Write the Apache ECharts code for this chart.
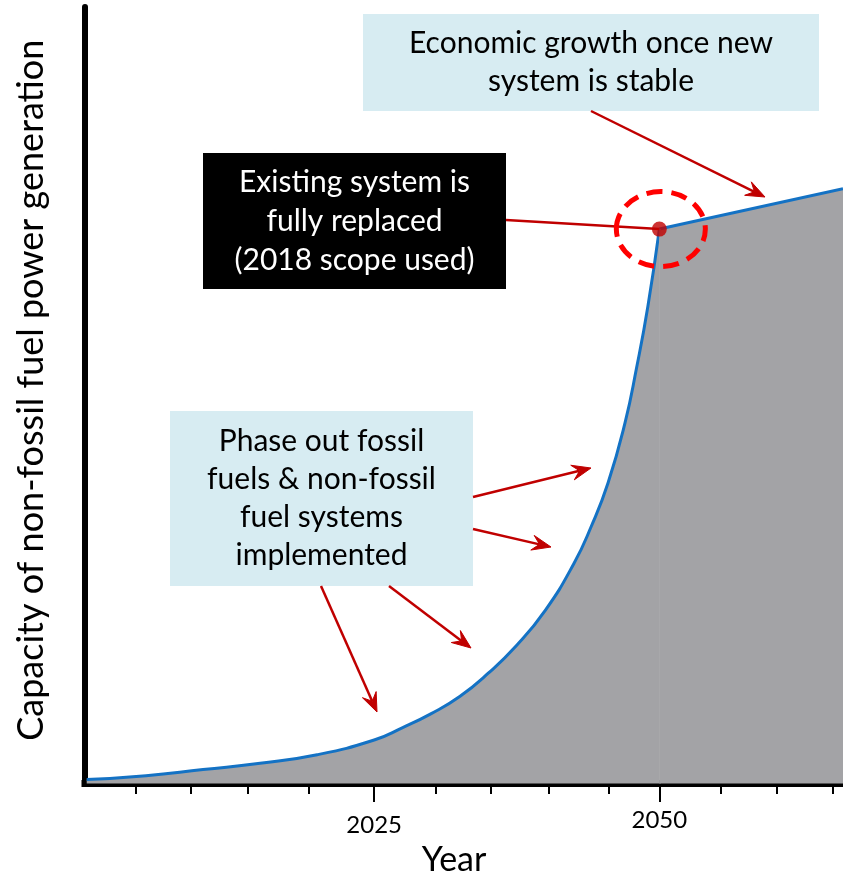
<!DOCTYPE html>
<html>
<head>
<meta charset="utf-8">
<script src="https://cdn.jsdelivr.net/npm/echarts@6/dist/echarts.min.js"></script>
<style>
  html, body { margin: 0; padding: 0; background: #ffffff; }
  #chart { width: 843px; height: 875px; }
</style>
</head>
<body>
<div id="chart"></div>
<script>
// Build-out of non-fossil generation capacity: a ramp that ends when the
// existing system is fully replaced, then slower economic growth.
const rampYears     = [1999.8, 2005, 2010, 2015, 2020, 2025, 2027.5, 2030, 2032.5, 2035, 2037.5, 2040, 2042.5, 2044, 2045.5, 2047, 2048, 2049, 2050];
const rampCapacity  = [0.5,    1.0,  1.8,  2.6,  3.7,  5.6,  7.2,    9.0,  11.2,   14.2, 17.8,   22.3, 28.3,   33.0, 38.7,   46.5, 53.5, 61.5, 71.4];
const growthYears    = [2050, 2066.1];
const growthCapacity = [71.4, 76.6];
const replacedPoint  = [2050, 71.4];

const minorTickYears = [2004.1, 2008.9, 2013.9, 2019.3, 2030.4, 2035.2, 2040.3, 2045.6, 2055.4, 2060.3, 2065.2];
const labelYears     = [2025, 2050];

const FONT = 'Lato, "Noto Sans", sans-serif';
const LINE_BLUE = '#1472c4';
const AREA_GREY = '#a3a3a6';
const DARK_RED = '#c00000';
const BOX_BLUE = '#d7ecf2';

const zip = (xs, ys) => xs.map((x, i) => [x, ys[i]]);

const chart = echarts.init(document.getElementById('chart'), null, { renderer: 'canvas' });

const xRange = { min: 1999.65, max: 2066.1 };
const lineCommon = {
  type: 'line', symbol: 'none',
  lineStyle: { color: LINE_BLUE, width: 3 },
  areaStyle: { color: AREA_GREY, opacity: 1 },
  z: 3
};

chart.setOption({
  animation: false,
  backgroundColor: '#ffffff',
  grid: { left: 85, right: 0, top: 7, bottom: 91.5, containLabel: false, outerBoundsMode: 'none' },
  xAxis: [
    {
      type: 'value', position: 'bottom', ...xRange,
      axisLine: { show: true, lineStyle: { color: '#000', width: 7, cap: 'square' } },
      axisTick: { show: true, customValues: minorTickYears, length: 10.5, lineStyle: { color: '#000', width: 2 } },
      axisLabel: { show: false },
      splitLine: { show: false },
      name: 'Year', nameLocation: 'middle', nameGap: 60,
      nameTextStyle: { fontFamily: FONT, fontSize: 34, color: '#000', padding: [0, 20, 0, 0] }
    },
    {
      type: 'value', position: 'bottom', ...xRange,
      axisLine: { show: false },
      axisTick: { show: true, customValues: labelYears, length: 18.5, lineStyle: { color: '#000', width: 2 } },
      axisLabel: {
        show: true, customValues: labelYears, margin: 25,
        fontFamily: FONT, fontSize: 24, color: '#000',
        formatter: v => (v === 2025 ? '{lo|2025}' : '{hi|' + v + '}'),
        rich: { lo: { fontFamily: FONT, fontSize: 24, padding: [5, 0, 0, 0] }, hi: { fontFamily: FONT, fontSize: 24, padding: [0, 0, 5, 0] } }
      },
      splitLine: { show: false }
    }
  ],
  yAxis: {
    type: 'value', min: 0, max: 100,
    axisLine: { show: true, lineStyle: { color: '#000', width: 6 } },
    axisTick: { show: false },
    axisLabel: { show: false },
    splitLine: { show: false },
    name: 'Capacity of non-fossil fuel power generation',
    nameLocation: 'middle', nameRotate: 90, nameGap: 36,
    nameTextStyle: { fontFamily: FONT, fontSize: 36, color: '#000', padding: [0, 0, 0, 10] }
  },
  series: [
    {
      ...lineCommon, name: 'ramp', data: zip(rampYears, rampCapacity), smooth: 0.5,
      // fill the hairline where the two shaded phases meet
      markLine: {
        silent: true, symbol: 'none', label: { show: false },
        lineStyle: { color: AREA_GREY, width: 1.5, type: 'solid' },
        data: [[{ coord: [replacedPoint[0], 0] }, { coord: replacedPoint }]]
      }
    },
    { ...lineCommon, name: 'growth', data: zip(growthYears, growthCapacity) },
    {
      name: 'replaced', type: 'scatter', data: [replacedPoint],
      symbol: 'circle', symbolSize: 15,
      itemStyle: { color: DARK_RED },
      z: 20
    }
  ]
});

// Arrow with a notched, filled head
function arrow(x1, y1, x2, y2, headLen = 19, halfWidth = 7.5, notch = 0.62) {
  const a = Math.atan2(y2 - y1, x2 - x1);
  const c = Math.cos(a), s = Math.sin(a);
  const pt = (back, side) => [x2 - back * c - side * s, y2 - back * s + side * c];
  const notchPt = pt(headLen * notch, 0);
  return {
    type: 'group', z: 10,
    children: [
      { type: 'line', shape: { x1, y1, x2: notchPt[0], y2: notchPt[1] }, style: { stroke: DARK_RED, lineWidth: 2.5 }, z: 10 },
      {
        type: 'polygon', z: 10,
        shape: { points: [[x2, y2], pt(headLen, halfWidth), notchPt, pt(headLen, -halfWidth)] },
        style: { fill: DARK_RED, stroke: DARK_RED, lineWidth: 1, lineJoin: 'miter' }
      }
    ]
  };
}

function textBox(x, y, w, h, fill, color, text, lineHeight) {
  return {
    type: 'group', z: 10,
    children: [
      { type: 'rect', shape: { x, y, width: w, height: h }, style: { fill }, z: 10 },
      {
        type: 'text', z: 11,
        style: {
          text, x: x + w / 2, y: y + h / 2, align: 'center', verticalAlign: 'middle',
          font: '30px ' + FONT, fill: color, lineHeight
        }
      }
    ]
  };
}

const kink = chart.convertToPixel({ xAxisIndex: 0, yAxisIndex: 0 }, replacedPoint);

chart.setOption({
  graphic: [
    textBox(363, 14, 456, 97, BOX_BLUE, '#000', 'Economic growth once new\nsystem is stable', 38),
    textBox(203, 153, 303, 136, '#000', '#fff', 'Existing system is\nfully replaced\n(2018 scope used)', 39),
    textBox(170, 411, 303, 175, BOX_BLUE, '#000', 'Phase out fossil\nfuels & non-fossil\nfuel systems\nimplemented', 38),
    arrow(591, 111, 765, 197),
    arrow(473, 497, 591, 468),
    arrow(473, 529, 551, 547),
    arrow(389, 586, 471, 648),
    arrow(321, 586, 377, 712),
    { type: 'line', z: 10, shape: { x1: 506, y1: 220, x2: kink[0], y2: kink[1] }, style: { stroke: DARK_RED, lineWidth: 2.5 } },
    {
      type: 'ellipse', z: 15,
      shape: { cx: kink[0] + 1.5, cy: kink[1], rx: 44.5, ry: 37.5 },
      style: { fill: null, stroke: '#ff0000', lineWidth: 5, lineDash: [16, 9] }
    }
  ]
});
</script>
</body>
</html>
